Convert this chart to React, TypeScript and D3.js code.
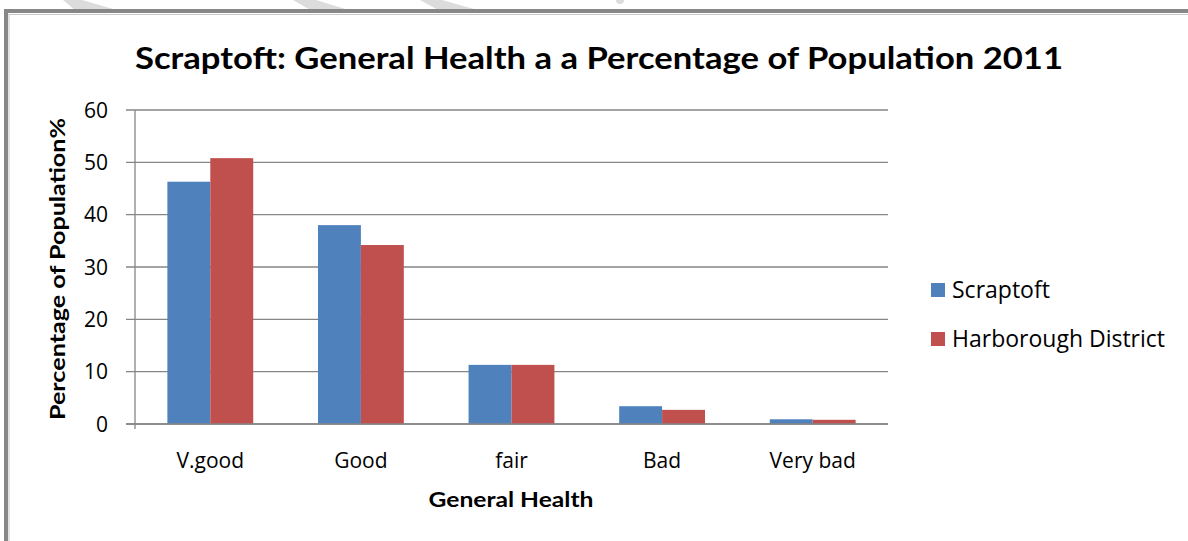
import React from "react";
import * as d3 from "d3";

const categories = ["V.good", "Good", "fair", "Bad", "Very bad"];
const seriesNames = ["Scraptoft", "Harborough District"];
const scraptoft = [46.3, 38.0, 11.3, 3.4, 0.9];
const harborough = [50.8, 34.2, 11.3, 2.7, 0.8];
const yTicks = [0, 10, 20, 30, 40, 50, 60];
const colors = ["#4F81BD", "#C0504D"];

const W = 1188;
const H = 541;
const plot = { left: 135, right: 888, top: 110, bottom: 424 };
const FONT = "'Open Sans', Lato, sans-serif";
const BFONT = "Lato, 'Open Sans', sans-serif";

export default function App() {
  const x = d3
    .scaleBand<string>()
    .domain(categories)
    .range([plot.left, plot.right])
    .paddingInner(0.43)
    .paddingOuter(0.215);
  const x1 = d3
    .scaleBand<string>()
    .domain(seriesNames)
    .range([0, x.bandwidth()]);
  const y = d3.scaleLinear().domain([0, 60]).range([plot.bottom, plot.top]);
  const series = [scraptoft, harborough];

  const stripes = [
    [63, 0, 82, 0, 120, 11, 76, 11],
    [293, 0, 316, 0, 352, 11, 312, 11],
    [420, 0, 442, 0, 481, 11, 440, 11],
  ];

  return (
    <svg
      width={W}
      height={H}
      style={{ position: "absolute", left: 0, top: 0, background: "#fff" }}
    >
      <rect x={0} y={0} width={W} height={H} fill="#fff" />
      {stripes.map((s, i) => (
        <polygon
          key={i}
          points={`${s[0]},${s[1]} ${s[2]},${s[3]} ${s[4]},${s[5]} ${s[6]},${s[7]}`}
          fill="#dcdcdc"
        />
      ))}
      <circle cx={620} cy={0} r={4} fill="#dcdcdc" />
      {/* frame */}
      <rect x={6} y={11} width={W} height={H} fill="none" stroke="#878787" strokeWidth={4} />
      <rect x={9} y={14.5} width={W} height={H} fill="none" stroke="#c8c8c8" strokeWidth={1} />

      {/* title */}
      <text
        x={599}
        y={69}
        textAnchor="middle"
        fontFamily={BFONT}
        fontWeight="bold"
        fontSize={30}
        textLength={928}
        lengthAdjust="spacingAndGlyphs"
        fill="#000"
      >
        Scraptoft: General Health a a Percentage of Population 2011
      </text>

      {/* gridlines */}
      {yTicks.map((t) => (
        <g key={t}>
          <line
            x1={126}
            x2={plot.right}
            y1={y(t)}
            y2={y(t)}
            stroke="#868686"
            strokeWidth={1.3}
          />
          <text
            x={108}
            y={y(t) + 7.5}
            textAnchor="end"
            fontFamily={FONT}
            fontSize={21}
            fill="#000"
          >
            {t}
          </text>
        </g>
      ))}
      <line
        x1={plot.left}
        x2={plot.left}
        y1={plot.top}
        y2={plot.bottom + 5}
        stroke="#868686"
        strokeWidth={1.3}
      />

      {/* bars */}
      {categories.map((c, i) => (
        <g key={c} transform={`translate(${x(c)},0)`}>
          {series.map((vals, s) => (
            <rect
              key={s}
              x={x1(seriesNames[s])}
              y={y(vals[i])}
              width={x1.bandwidth()}
              height={plot.bottom - y(vals[i])}
              fill={colors[s]}
            />
          ))}
          <text
            x={x.bandwidth() / 2}
            y={468}
            textAnchor="middle"
            fontFamily={FONT}
            fontSize={21}
            fill="#000"
          >
            {c}
          </text>
        </g>
      ))}
      <line
        x1={126}
        x2={plot.right}
        y1={plot.bottom}
        y2={plot.bottom}
        stroke="#868686"
        strokeWidth={1.3}
      />

      {/* axis titles */}
      <text
        x={511}
        y={507}
        textAnchor="middle"
        fontFamily={BFONT}
        fontWeight="bold"
        fontSize={20}
        textLength={165}
        lengthAdjust="spacingAndGlyphs"
        fill="#000"
      >
        General Health
      </text>
      <text
        transform="translate(65,269) rotate(-90)"
        textAnchor="middle"
        fontFamily={BFONT}
        fontWeight="bold"
        fontSize={20}
        textLength={302}
        lengthAdjust="spacingAndGlyphs"
        fill="#000"
      >
        Percentage of Population%
      </text>

      {/* legend */}
      {seriesNames.map((n, i) => (
        <g key={n} transform={`translate(931,${283 + i * 49})`}>
          <rect x={0} y={0} width={14} height={14} fill={colors[i]} />
          <text x={21} y={15} fontFamily={FONT} fontSize={23} fill="#000">
            {n}
          </text>
        </g>
      ))}
    </svg>
  );
}
